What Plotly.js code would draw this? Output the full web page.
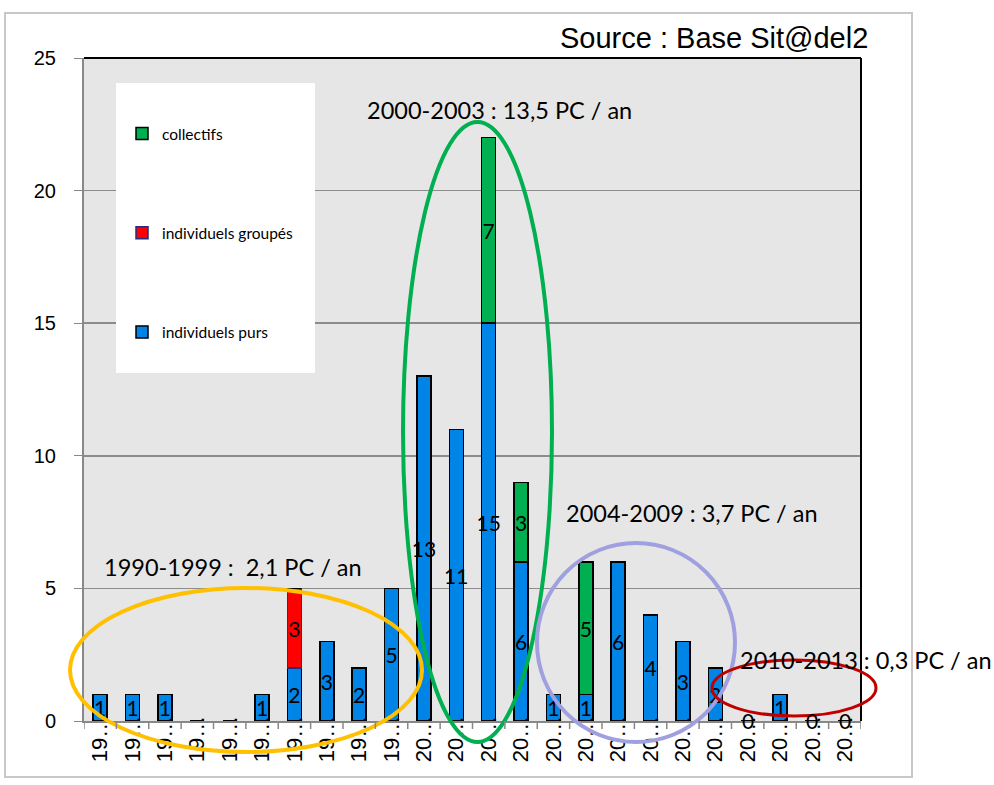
<!DOCTYPE html>
<html><head><meta charset="utf-8">
<script src="https://cdn.plot.ly/plotly-3.0.1.min.js"></script>
<style>body{margin:0;background:#fff}#chart{width:994px;height:785px}</style>
</head><body><div id="chart"></div>
<script>
// ---- data ----
const years = ['1990','1991','1992','1993','1994','1995','1996','1997','1998','1999','2000','2001','2002','2003','2004','2005','2006','2007','2008','2009','2010','2011','2012','2013'];
const tickLabels = ['19…','19…','19…','19…','19…','19…','19…','19…','19…','19…','20…','20…','20…','20…','20…','20…','20…','20…','20…','20…','20…','20…','20…','20…'];
const individuelsPurs = [1,1,1,0,0,1,2,3,2,5,13,11,15,6,1,1,6,4,3,2,0,1,0,0];
const individuelsGroupes = [0,0,0,0,0,0,3,0,0,0,0,0,0,0,0,0,0,0,0,0,0,0,0,0];
const collectifs = [0,0,0,0,0,0,0,0,0,0,0,0,7,3,0,5,0,0,0,0,0,0,0,0];
const zeroLabelYears = ['2010','2012','2013'];
const periodLabels = ['1990-1999 :  2,1 PC / an','2000-2003 : 13,5 PC / an','2004-2009 : 3,7 PC / an','2010-2013 : 0,3 PC / an'];
const sourceLabel = 'Source : Base Sit@del2';

// ---- layout helpers (pixel -> paper) ----
const L=84, R=861, T=58, B=721, W=994, H=785;
const px = x => (x-L)/(R-L);
const py = y => (B-y)/(B-T);
const lbl = v => v.map(n => n===0 ? '' : String(n));
const idx = years.map((_, i) => i);

const common = {
  type:'bar', x:idx, textposition:'inside', insidetextanchor:'middle',
  textangle:0, constraintext:'none', hoverinfo:'skip', cliponaxis:false,
  textfont:{family:'Lato, Liberation Sans, sans-serif', size:21, color:'#000'}
};
const traces = [
  Object.assign({}, common, {name:'individuels purs', y:individuelsPurs, text:lbl(individuelsPurs),
    marker:{color:'#0084e6', line:{color:'#000', width:1.5}}, legendrank:3, legendgroup:'purs'}),
  Object.assign({}, common, {name:'individuels groupés', y:individuelsGroupes, text:lbl(individuelsGroupes),
    marker:{color:'#ff0000', line:{color:'#2a2a80', width:1.5}}, legendrank:2, legendgroup:'groupes'}),
  Object.assign({}, common, {name:'collectifs', y:collectifs, text:lbl(collectifs),
    marker:{color:'#00b050', line:{color:'#000', width:1.5}}, legendrank:1, legendgroup:'collectifs'})
];

const annFont = {family:'Lato, Liberation Sans, sans-serif', size:23.5, color:'#000'};
const annotations = [
  {xref:'paper', yref:'paper', x:px(870), y:py(38), xanchor:'right', yanchor:'middle', text:sourceLabel, showarrow:false,
   font:{family:'Liberation Sans, Arial, sans-serif', size:29, color:'#000'}},
  {xref:'paper', yref:'paper', x:px(233), y:py(567), xanchor:'center', yanchor:'middle', text:periodLabels[0], showarrow:false, font:annFont},
  {xref:'paper', yref:'paper', x:px(499), y:py(110), xanchor:'center', yanchor:'middle', text:periodLabels[1], showarrow:false, font:annFont},
  {xref:'paper', yref:'paper', x:px(692), y:py(513), xanchor:'center', yanchor:'middle', text:periodLabels[2], showarrow:false, font:annFont},
  {xref:'paper', yref:'paper', x:px(866), y:py(660), xanchor:'center', yanchor:'middle', text:periodLabels[3], showarrow:false, font:annFont}
];
zeroLabelYears.forEach(yr => annotations.push({x:years.indexOf(yr), y:0, xref:'x', yref:'y', text:'0', showarrow:false,
  yanchor:'middle', yshift:1, font:{family:'Lato, Liberation Sans, sans-serif', size:21, color:'#000'}}));

const shapes = [
  {type:'rect', xref:'paper', yref:'paper', x0:px(5), x1:px(912), y0:py(777), y1:py(13), layer:'below',
   line:{color:'#c8c8c8', width:2}, fillcolor:'rgba(0,0,0,0)'},
  {type:'line', xref:'paper', yref:'paper', x0:0, x1:1, y0:1, y1:1, line:{color:'#000', width:2}},
  {type:'line', xref:'paper', yref:'paper', x0:1, x1:1, y0:0, y1:1, line:{color:'#000', width:2}},
  {type:'rect', xref:'paper', yref:'paper', x0:px(116), x1:px(315), y0:py(373), y1:py(83), layer:'above',
   line:{width:0}, fillcolor:'#fff'},
  {type:'circle', xref:'paper', yref:'paper', x0:px(70), x1:px(422), y0:py(752), y1:py(588), line:{color:'#ffc000', width:4}},
  {type:'circle', xref:'paper', yref:'paper', x0:px(403), x1:px(552), y0:py(742), y1:py(122), line:{color:'#00b050', width:4}},
  {type:'circle', xref:'paper', yref:'paper', x0:px(537), x1:px(735), y0:py(742), y1:py(543), line:{color:'#a0a0e0', width:4}},
  {type:'circle', xref:'paper', yref:'paper', x0:px(712), x1:px(876), y0:py(716), y1:py(660), line:{color:'#c00000', width:3}}
];
// category boundary tick marks
for (let i = 0; i <= years.length; i++) {
  shapes.push({type:'line', xref:'x', yref:'paper', x0:i-0.5, x1:i-0.5, y0:0, y1:-8/(B-T), line:{color:'#888', width:1.5}});
}

const layout = {
  width:W, height:H,
  margin:{l:L, r:W-R, t:T, b:H-B},
  paper_bgcolor:'#fff', plot_bgcolor:'#e6e6e6',
  barmode:'stack', bargap:0.57,
  showlegend:true,
  legend:{x:px(122), y:py(117), xanchor:'left', yanchor:'top', bgcolor:'rgba(0,0,0,0)',
    traceorder:'grouped', tracegroupgap:76,
    font:{family:'Lato, Liberation Sans, sans-serif', size:15.5, color:'#000'}},
  xaxis:{type:'linear', range:[-0.5, years.length-0.5], tickmode:'array', tickvals:idx, ticktext:tickLabels, tickangle:-90,
    ticks:'', showline:true, linecolor:'#888', linewidth:2, ticklabelstandoff:-16,
    showgrid:false, zeroline:false, fixedrange:true,
    tickfont:{family:'Liberation Sans, Arial, sans-serif', size:22, color:'#000'}},
  yaxis:{range:[0,25], dtick:5, ticks:'outside', ticklen:8, tickcolor:'#888', ticklabelstandoff:14, showline:true,
    linecolor:'#888', linewidth:2, gridcolor:'#8c8c8c', gridwidth:1.5, zeroline:false, fixedrange:true,
    tickfont:{family:'Liberation Sans, Arial, sans-serif', size:20, color:'#000'}},
  annotations, shapes
};
Plotly.newPlot('chart', traces, layout, {displayModeBar:false, staticPlot:true});
</script></body></html>
